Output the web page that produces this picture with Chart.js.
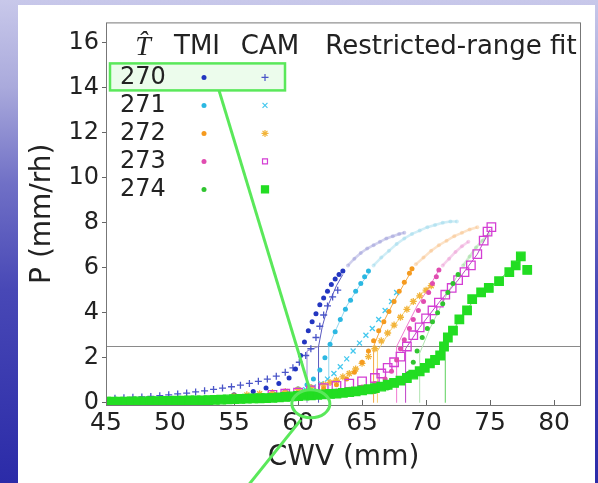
<!DOCTYPE html>
<html>
<head>
<meta charset="utf-8">
<script src="https://cdn.jsdelivr.net/npm/chart.js@4.4.1/dist/chart.umd.min.js"></script>
<style>
  html, body { margin: 0; padding: 0; }
  body {
    width: 598px; height: 483px; overflow: hidden; position: relative;
    background: linear-gradient(to bottom, #c8c8ea 0%, #aaaadc 18%, #7070c6 38%, #4848b6 60%, #2b2ba8 100%);
  }
  #panel { position: absolute; left: 18px; top: 5px; width: 577px; height: 478px; background: #fff; }
</style>
</head>
<body>
<div id="panel"><canvas id="chart" width="577" height="478"></canvas></div>
<script>
// axis ticks + legend text
const cwvTicks = [45, 50, 55, 60, 65, 70, 75, 80];
const pTicks = [0, 2, 4, 6, 8, 10, 12, 14, 16];
const tHat = ["270", "271", "272", "273", "274"];
const legendHeader = ["T\u0302", "TMI", "CAM", "Restricted-range fit"];
const threshold = 2.5;

// TMI (dots)
const tmi270Cwv = [55, 56.5, 57.5, 58.5, 59.3, 59.8, 60.2, 60.5, 60.8, 61.1, 61.4, 61.7, 62.0, 62.3, 62.6, 62.9, 63.2, 63.5];
const tmi270P = [0.35, 0.5, 0.65, 0.85, 1.1, 1.5, 2.1, 2.7, 3.2, 3.6, 3.95, 4.35, 4.65, 4.95, 5.25, 5.5, 5.7, 5.85];
const tmi271Cwv = [56, 57, 58, 59, 60, 60.7, 61.2, 61.7, 62.1, 62.5, 62.9, 63.3, 63.7, 64.1, 64.5, 64.9, 65.2, 65.5];
const tmi271P = [0.3, 0.35, 0.42, 0.5, 0.62, 0.8, 1.05, 1.45, 2.0, 2.6, 3.15, 3.7, 4.15, 4.55, 4.95, 5.3, 5.6, 5.85];
const tmi272Cwv = [56, 58, 60, 61, 62, 63, 63.8, 64.4, 65, 65.5, 65.9, 66.3, 66.7, 67.1, 67.5, 67.9, 68.3, 68.7, 68.9];
const tmi272P = [0.25, 0.32, 0.42, 0.5, 0.62, 0.8, 1.05, 1.35, 1.8, 2.3, 2.75, 3.2, 3.6, 4.05, 4.5, 4.95, 5.35, 5.75, 5.95];
const tmi273Cwv = [60, 61, 62, 63, 64, 65, 66, 66.8, 67.3, 67.7, 68.0, 68.3, 68.7, 69.0, 69.4, 69.8, 70.2, 70.5, 70.8, 71.0];
const tmi273P = [0.35, 0.4, 0.45, 0.52, 0.6, 0.7, 0.85, 1.05, 1.4, 1.9, 2.4, 2.8, 3.3, 3.7, 4.1, 4.5, 4.9, 5.3, 5.6, 5.9];
const tmi274Cwv = [66, 67, 68, 68.6, 69, 69.3, 69.7, 70.1, 70.5, 70.9, 71.3, 71.7, 72.1, 72.5];
const tmi274P = [0.5, 0.65, 0.9, 1.3, 1.8, 2.3, 2.9, 3.3, 3.6, 4.0, 4.4, 4.9, 5.3, 5.7];

// TMI, pale tail
const pale270Cwv = [63.9, 64.4, 64.9, 65.4, 65.9, 66.4, 66.9, 67.4, 67.9, 68.3];
const pale270P = [6.1, 6.4, 6.65, 6.85, 7.0, 7.15, 7.3, 7.4, 7.5, 7.55];
const pale271Cwv = [65.9, 66.5, 67.1, 67.7, 68.3, 68.9, 69.5, 70.1, 70.7, 71.3, 71.9, 72.4];
const pale271P = [6.1, 6.45, 6.75, 7.05, 7.3, 7.5, 7.65, 7.8, 7.9, 8.0, 8.05, 8.05];
const pale272Cwv = [69.2, 69.8, 70.4, 71, 71.6, 72.2, 72.8, 73.4, 74];
const pale272P = [6.15, 6.45, 6.75, 7.0, 7.2, 7.4, 7.55, 7.7, 7.8];
const pale273Cwv = [71.3, 71.8, 72.3, 72.8, 73.3];
const pale273P = [6.1, 6.4, 6.7, 6.95, 7.15];
const pale274Cwv = [72.9, 73.4, 73.9, 74.4, 74.9];
const pale274P = [6.1, 6.5, 6.9, 7.2, 7.5];

// CAM (markers)
const cam270Cwv = [45, 45.7, 46.4, 47.1, 47.8, 48.5, 49.2, 49.9, 50.6, 51.3, 52, 52.7, 53.4, 54.1, 54.8, 55.5, 56.2, 56.9, 57.6, 58.3, 59, 59.6, 60.1, 60.6, 61.0, 61.4, 61.7, 62.0, 62.3, 62.7, 63.1];
const cam270P = [0.18, 0.2, 0.22, 0.24, 0.26, 0.28, 0.31, 0.35, 0.39, 0.43, 0.48, 0.53, 0.59, 0.65, 0.71, 0.78, 0.86, 0.95, 1.05, 1.18, 1.35, 1.55, 1.8, 2.1, 2.4, 2.9, 3.4, 3.9, 4.3, 4.7, 5.0];
const cam271Cwv = [55, 56, 57, 58, 59, 60, 60.6, 61.2, 61.8, 62.3, 62.8, 63.3, 63.8, 64.3, 64.8, 65.3, 65.8, 66.3, 66.8, 67.3, 67.7];
const cam271P = [0.2, 0.25, 0.3, 0.36, 0.43, 0.5, 0.58, 0.7, 0.85, 1.05, 1.3, 1.6, 1.95, 2.3, 2.65, 3.0, 3.3, 3.7, 4.1, 4.5, 4.9];
const cam272Cwv = [55, 56, 57, 58, 59, 60, 61, 62, 62.5, 63, 63.5, 64, 64.5, 65, 65.5, 66, 66.5, 67, 67.5, 68, 68.5, 69, 69.5, 70, 70.4];
const cam272P = [0.3, 0.35, 0.4, 0.45, 0.5, 0.58, 0.68, 0.8, 0.9, 1.0, 1.15, 1.3, 1.5, 1.75, 2.05, 2.4, 2.75, 3.1, 3.45, 3.8, 4.15, 4.5, 4.75, 5.0, 5.2];
const cam273Cwv = [58, 59, 60, 61, 62, 63, 64, 65, 66, 66.5, 67, 67.5, 68, 68.5, 69, 69.5, 70, 70.5, 71, 71.5, 72, 72.5, 73, 73.5, 74, 74.5, 74.8, 75.1];
const cam273P = [0.35, 0.4, 0.45, 0.55, 0.65, 0.75, 0.85, 0.95, 1.1, 1.3, 1.55, 1.8, 2.05, 2.5, 3.0, 3.35, 3.75, 4.1, 4.45, 4.8, 5.1, 5.45, 5.8, 6.1, 6.6, 7.2, 7.6, 7.8];
const cam274Cwv = [45, 45.5, 46, 46.5, 47, 47.5, 48, 48.5, 49, 49.5, 50, 50.5, 51, 51.5, 52, 52.5, 53, 53.5, 54, 54.5, 55, 55.5, 56, 56.5, 57, 57.5, 58, 58.5, 59, 59.5, 60, 60.5, 61, 61.5, 62, 62.5, 63, 63.5, 64, 64.5, 65, 65.5, 66, 66.5, 67, 67.5, 68, 68.5, 69, 69.5, 69.9, 70.3, 70.7, 71.1, 71.4, 71.7, 72.1, 72.6, 73.2, 73.6, 74.3, 74.9, 75.7, 76.5, 77.0, 77.4, 77.9];
const cam274P = [0.05, 0.05, 0.05, 0.05, 0.06, 0.06, 0.06, 0.07, 0.07, 0.08, 0.08, 0.09, 0.09, 0.1, 0.1, 0.11, 0.12, 0.13, 0.14, 0.15, 0.16, 0.17, 0.18, 0.19, 0.2, 0.21, 0.22, 0.24, 0.26, 0.28, 0.3, 0.32, 0.33, 0.35, 0.37, 0.39, 0.41, 0.44, 0.47, 0.51, 0.55, 0.6, 0.65, 0.72, 0.8, 0.88, 0.98, 1.1, 1.25, 1.4, 1.55, 1.75, 1.9, 2.1, 2.5, 2.9, 3.2, 3.7, 4.1, 4.6, 4.9, 5.1, 5.4, 5.8, 6.1, 6.5, 5.9];

// restricted-range fits (thin lines, drop to the critical CWV)
const fit270Cwv = [61.6, 61.6, 61.9, 62.4, 63.0, 63.5];
const fit270P = [0, 2.5, 3.4, 4.4, 5.2, 5.7];
const fit270bCwv = [60.7, 60.7, 61.6];
const fit270bP = [0, 2.3, 2.5];
const fit271Cwv = [62.4, 62.4, 63.0, 63.8, 64.8, 65.6];
const fit271P = [0, 2.5, 3.3, 4.3, 5.2, 5.8];
const fit272Cwv = [65.9, 65.9, 66.6, 67.4, 68.2, 68.9];
const fit272P = [0, 2.5, 3.5, 4.4, 5.2, 5.9];
const fit272bCwv = [66.2, 66.2, 67.2, 68.4, 69.5, 70.5];
const fit272bP = [0, 2.3, 3.2, 4.1, 4.8, 5.3];
const fit273Cwv = [67.7, 67.7, 68.4, 69.3, 70.2, 71.0];
const fit273P = [0, 2.5, 3.3, 4.3, 5.1, 5.9];
const fit273bCwv = [68.4, 68.4, 69.5, 71, 72.5, 74, 75];
const fit273bP = [0, 2.4, 3.35, 4.45, 5.45, 6.6, 7.7];
const fit274Cwv = [69.5, 69.5, 70.3, 71, 71.7, 72.5];
const fit274P = [0, 2.2, 3.3, 4.1, 4.9, 5.7];
const fit274bCwv = [71.5, 71.5, 72.6, 74, 75.5, 77.5];
const fit274bP = [0, 2.5, 3.7, 4.75, 5.35, 6.4];

const tmiColors = ["#2336c0", "#2bb8e2", "#f59a1e", "#e04cb0", "#30c430"];
const camColors = ["#4a55c8", "#45c8ee", "#f2b43a", "#d43ed4", "#22dd22"];
const paleColors = ["rgba(150,150,215,0.45)", "rgba(150,215,235,0.45)", "rgba(248,190,130,0.45)", "rgba(235,150,210,0.45)", "rgba(150,220,150,0.45)"];
const camStyles = [
  { pointStyle: "cross", radius: 3.5, fill: false },
  { pointStyle: "crossRot", radius: 3.5, fill: false },
  { pointStyle: "star", radius: 3.5, fill: false },
  { pointStyle: "rect", radius: 6, fill: false },
  { pointStyle: "rect", radius: 6, fill: true },
];

function pts(xs, ys) {
  return xs.map((x, i) => ({ x: x, y: ys[i] }));
}

const tmiData = [[tmi270Cwv, tmi270P], [tmi271Cwv, tmi271P], [tmi272Cwv, tmi272P], [tmi273Cwv, tmi273P], [tmi274Cwv, tmi274P]];
const camData = [[cam270Cwv, cam270P], [cam271Cwv, cam271P], [cam272Cwv, cam272P], [cam273Cwv, cam273P], [cam274Cwv, cam274P]];
const paleData = [[pale270Cwv, pale270P], [pale271Cwv, pale271P], [pale272Cwv, pale272P], [pale273Cwv, pale273P], [pale274Cwv, pale274P]];
const fitData = [
  [fit270Cwv, fit270P, "#5a5ac0"], [fit270bCwv, fit270bP, "#9a8ad8"],
  [fit271Cwv, fit271P, "#8fd6ee"],
  [fit272Cwv, fit272P, "#f5a640"], [fit272bCwv, fit272bP, "#f7d070"],
  [fit273Cwv, fit273P, "#f07ad0"], [fit273bCwv, fit273bP, "#c040c8"],
  [fit274Cwv, fit274P, "#b0e4b0"], [fit274bCwv, fit274bP, "#5cd05c"],
];

const datasets = [];
paleData.forEach(([xs, ys], i) => {
  datasets.push({
    label: "pale " + tHat[i], data: pts(xs, ys), showLine: true,
    borderColor: paleColors[i], borderWidth: 2.5, backgroundColor: paleColors[i],
    pointRadius: 2, pointBorderWidth: 0, order: 30,
  });
});
fitData.forEach(([xs, ys, c], i) => {
  datasets.push({
    label: "fit " + i, data: pts(xs, ys), showLine: true,
    borderColor: c, borderWidth: 1, pointRadius: 0, order: 20,
  });
});
for (let i = 0; i < 5; i++) {
  const s = camStyles[i];
  datasets.push({
    label: "CAM " + tHat[i], data: pts(camData[i][0], camData[i][1]),
    pointStyle: s.pointStyle, pointRadius: s.radius, borderWidth: 1.3,
    borderColor: camColors[i], backgroundColor: s.fill ? camColors[i] : "rgba(0,0,0,0)",
    order: i === 4 ? 1 : 12 - i * 2,
  });
  datasets.push({
    label: "TMI " + tHat[i], data: pts(tmiData[i][0], tmiData[i][1]),
    pointStyle: "circle", pointRadius: 2.5, borderWidth: 0,
    backgroundColor: tmiColors[i], borderColor: tmiColors[i],
    order: 11 - i * 2,
  });
}

const overlay = {
  id: "overlay",
  beforeDatasetsDraw(chart) {
    const ctx = chart.ctx, a = chart.chartArea, xs = chart.scales.x, ys = chart.scales.y;
    ctx.save();
    ctx.strokeStyle = "#8a8a8a";
    ctx.lineWidth = 1;
    const ty = Math.round(ys.getPixelForValue(threshold)) + 0.5;
    ctx.beginPath();
    ctx.moveTo(a.left, ty);
    ctx.lineTo(a.right, ty);
    ctx.stroke();
    // inward x ticks
    ctx.strokeStyle = "#666";
    cwvTicks.forEach((v) => {
      const px = Math.round(xs.getPixelForValue(v)) + 0.5;
      ctx.beginPath();
      ctx.moveTo(px, a.bottom);
      ctx.lineTo(px, a.bottom - 5);
      ctx.stroke();
    });
    ctx.restore();
  },
  afterDraw(chart) {
    const ctx = chart.ctx, a = chart.chartArea, xs = chart.scales.x, ys = chart.scales.y;
    const H = Chart.helpers;
    ctx.save();
    // frame
    ctx.strokeStyle = "#777";
    ctx.lineWidth = 1;
    ctx.strokeRect(a.left + 0.5, a.top + 0.5, a.right - a.left - 1, a.bottom - a.top);

    // highlight box behind row 270
    const bx = a.left + 4, by = a.top + 41, bw = 175, bh = 27;
    ctx.fillStyle = "rgba(170,240,170,0.22)";
    ctx.fillRect(bx, by, bw, bh);

    // legend
    ctx.fillStyle = "#222";
    ctx.textBaseline = "middle";
    ctx.textAlign = "center";
    ctx.font = 'italic 28px "Liberation Serif"';
    ctx.fillText(legendHeader[0], a.left + 37, a.top + 25);
    ctx.font = '26px "DejaVu Sans"';
    ctx.fillText(legendHeader[1], a.left + 91, a.top + 25);
    ctx.fillText(legendHeader[2], a.left + 164, a.top + 25);
    ctx.fillText(legendHeader[3], a.left + 345, a.top + 25);
    ctx.font = '24px "DejaVu Sans"';
    ctx.textAlign = "left";
    tHat.forEach((t, i) => {
      const ry = a.top + 55 + i * 28;
      ctx.fillStyle = "#222";
      ctx.fillText(t, a.left + 14, ry);
      ctx.fillStyle = tmiColors[i];
      H.drawPoint(ctx, { pointStyle: "circle", radius: 2.5, borderWidth: 0 }, a.left + 98, ry);
      const s = camStyles[i];
      ctx.strokeStyle = camColors[i];
      ctx.fillStyle = s.fill ? camColors[i] : "rgba(0,0,0,0)";
      ctx.lineWidth = 1.2;
      H.drawPoint(ctx, { pointStyle: s.pointStyle, radius: s.fill ? 5 : 3.5, borderWidth: 1.2 }, a.left + 159, ry);
    });

    // green call-out
    ctx.strokeStyle = "#5ae85a";
    ctx.lineWidth = 2.5;
    ctx.strokeRect(bx, by, bw, bh);
    const cx = xs.getPixelForValue(61.0), cy = ys.getPixelForValue(-0.05);
    ctx.lineWidth = 3;
    ctx.beginPath();
    ctx.moveTo(a.left + 113, by + bh);
    ctx.lineTo(cx - 1, cy - 14);
    ctx.stroke();
    ctx.beginPath();
    ctx.ellipse(cx, cy, 19, 14, 0, 0, Math.PI * 2);
    ctx.stroke();
    ctx.beginPath();
    ctx.moveTo(cx - 10, cy + 16);
    ctx.lineTo(cx - 63, cy + 82);
    ctx.stroke();
    ctx.restore();
  },
};

new Chart(document.getElementById("chart"), {
  type: "scatter",
  data: { datasets: datasets },
  options: {
    responsive: false,
    devicePixelRatio: 1,
    animation: false,
    layout: { padding: { left: 0, top: 17, right: 14, bottom: 0 } },
    plugins: { legend: { display: false }, tooltip: { enabled: false } },
    scales: {
      x: {
        type: "linear", min: 45, max: 82.1,
        afterBuildTicks: (s) => { s.ticks = cwvTicks.map((v) => ({ value: v })); },
        afterFit: (s) => { s.height = 78; },
        grid: { display: false },
        border: { display: false },
        ticks: { color: "#222", padding: -5, maxRotation: 0, font: { family: "DejaVu Sans", size: 25 } },
        title: { display: true, text: "CWV (mm)", color: "#222", padding: { top: 0, bottom: 8 }, font: { family: "DejaVu Sans", size: 28 } },
      },
      y: {
        type: "linear", min: -0.1, max: 16.9,
        afterBuildTicks: (s) => { s.ticks = pTicks.map((v) => ({ value: v })); },
        afterFit: (s) => { s.width = 88; },
        grid: { display: true, drawOnChartArea: false, drawTicks: true, tickLength: 4, color: "#666" },
        border: { display: false },
        ticks: { color: "#222", padding: 3, font: { family: "DejaVu Sans", size: 24 } },
        title: { display: true, text: "P (mm/rh)", color: "#222", padding: { top: 8, bottom: 0 }, font: { family: "DejaVu Sans", size: 28 } },
      },
    },
  },
  plugins: [overlay],
});
</script>
</body>
</html>
